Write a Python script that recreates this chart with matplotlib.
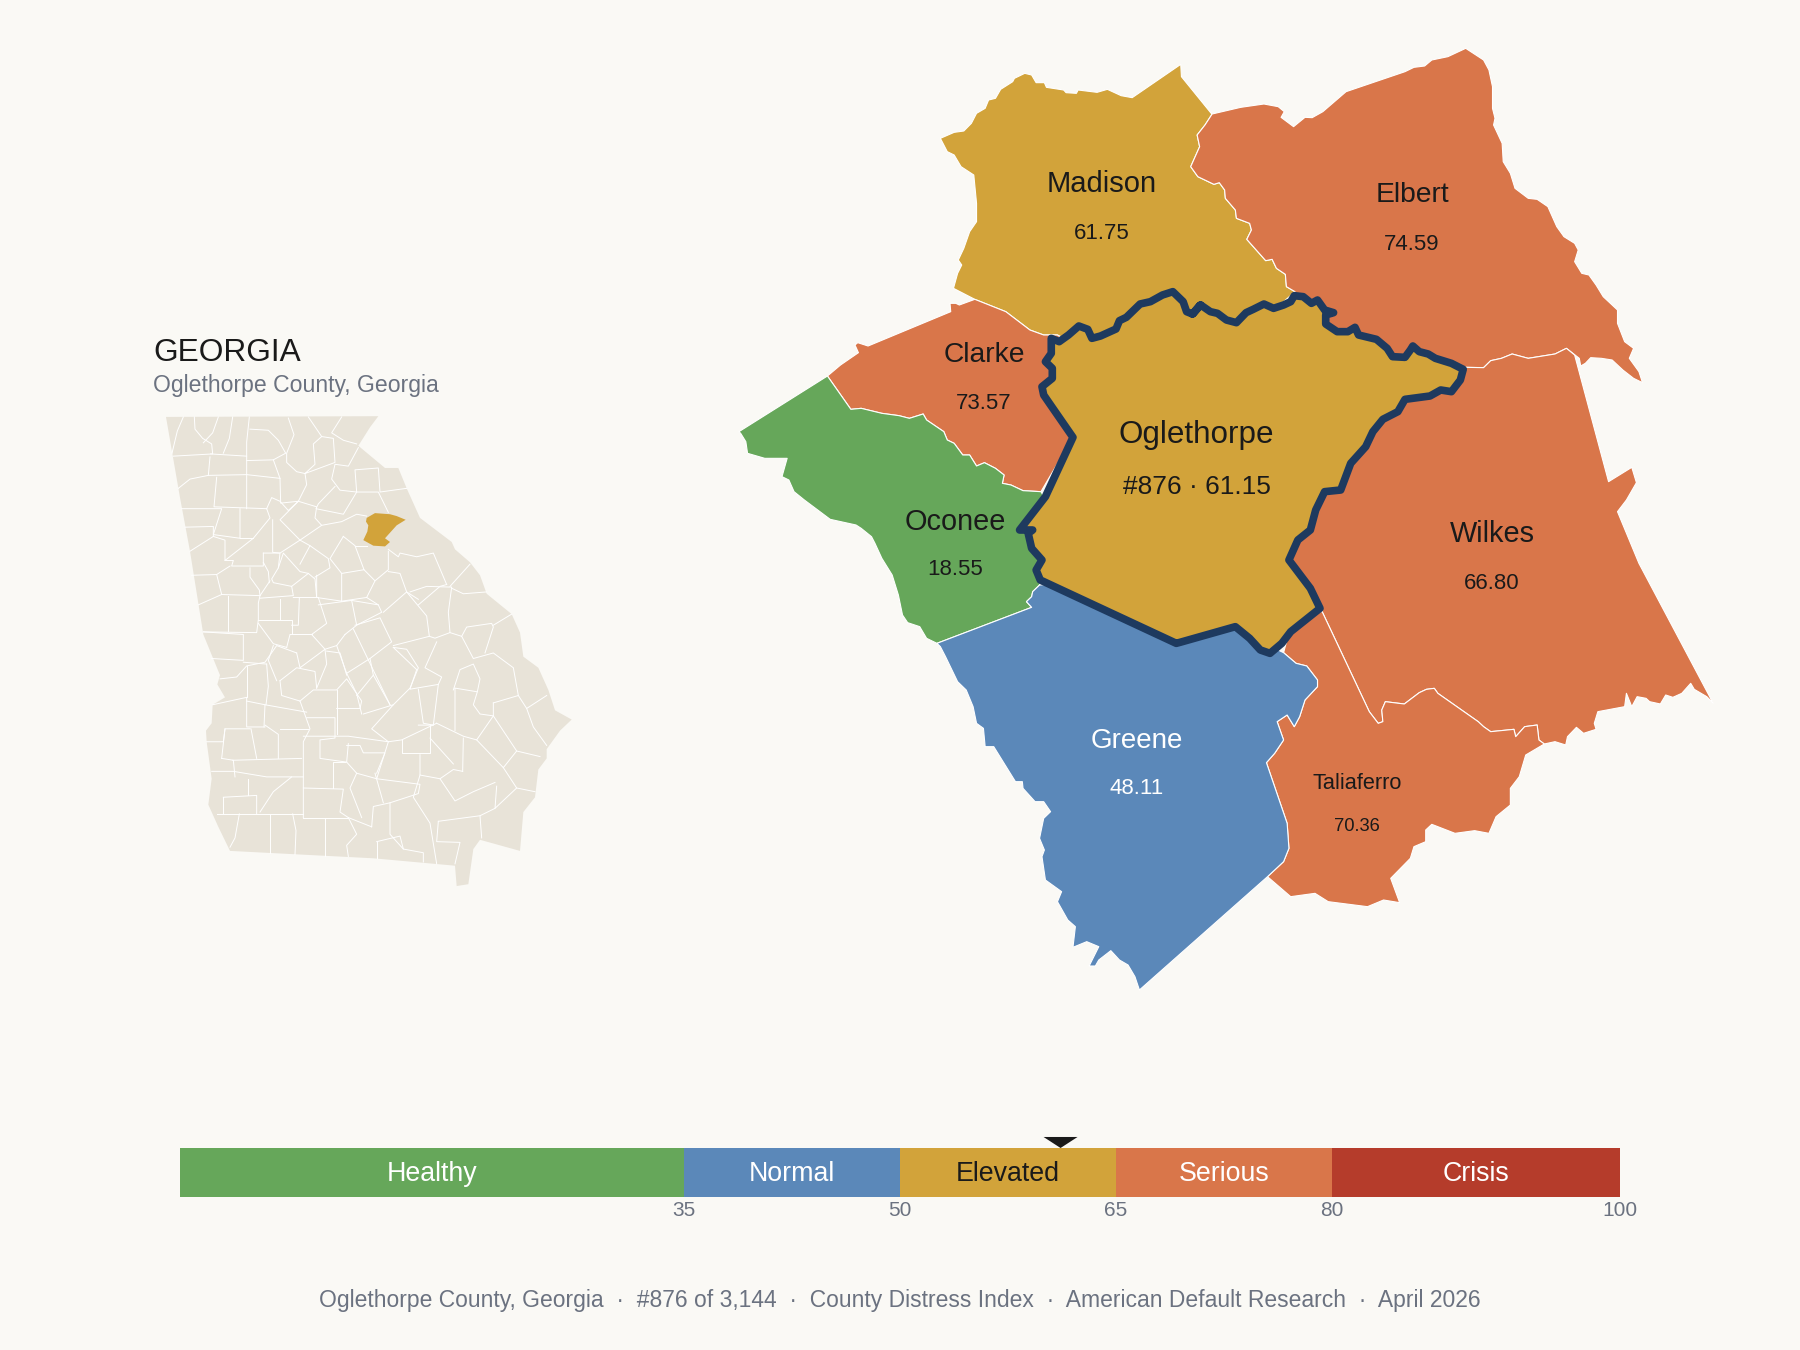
import matplotlib
matplotlib.use('Agg')
import matplotlib.pyplot as plt
import numpy as np

plt.rcParams['font.family'] = ['Liberation Sans', 'DejaVu Sans']

BG = '#FAF9F5'
INK = '#1A1A1A'
GREY = '#6B7280'
NAVY = '#1E3A5F'
LAND = '#E8E3D8'

# severity bands
band_names = ['Healthy', 'Normal', 'Elevated', 'Serious', 'Crisis']
band_edges = [0, 35, 50, 65, 80, 100]
band_colors = ['#66A75A', '#5B88B9', '#D2A33A', '#D9764A', '#B53C2B']
band_text = ['white', 'white', INK, 'white', 'white']
tick_values = [35, 50, 65, 80, 100]
county_score = 61.15

# county labels: name, score text, label colour, name size, score size
county_names = ['Madison', 'Elbert', 'Clarke', 'Oglethorpe', 'Oconee', 'Wilkes', 'Greene', 'Taliaferro']
county_scores = ['61.75', '74.59', '73.57', '#876 · 61.15', '18.55', '66.80', '48.11', '70.36']
name_xy = [(1102, 184.5), (1412, 195.5), (984, 355.5), (1196, 434.5), (955, 521.5), (1492, 534.5), (1137, 740.5), (1357, 783.5)]
score_xy = [(1102, 233.5), (1412, 244.5), (984, 403.5), (1197, 486.5), (955, 569.5), (1492, 583.5), (1137, 788.5), (1357, 826.5)]
name_size = [21, 20.3, 20.3, 22.6, 20.8, 20.8, 20, 15.7]
score_size = [16, 16, 16, 19, 16, 16, 16, 13.2]

CROP_A = (720, 30, 2.904, 3)
CROP_B = (1180, 30, 2.8, 3)
CROP_C = (720, 480, 2.904, 3)
CROP_D = (1180, 480, 2.8, 3)
CROP_E = (140, 320, 3, 2.703)


def px(crop, pts):
    x0, y0, sx, sy = crop
    a = np.array(pts, dtype=float)
    return np.column_stack([x0 + a[:, 0] / sx, y0 + a[:, 1] / sy])


# shared borders
madison_elbert = [(90, 252), (70, 285), (48, 315), (55, 350), (30, 410), (50, 440), (95, 463), (110, 458), (125, 480), (127, 505), (155, 540), (158, 565), (195, 580), (200, 600), (187, 628), (240, 692), (258, 688), (270, 715), (295, 733), (298, 770), (322, 785)]
madison_clarke = [(740, 808), (830, 845), (900, 900), (940, 915), (980, 915)]
clarke_oconee = [(312, 1038), (380, 1138), (410, 1135), (470, 1150), (520, 1157), (550, 1165), (590, 1152), (600, 1170), (650, 1205), (660, 1230), (680, 1240), (705, 1275), (725, 1275), (745, 1308), (768, 1298), (800, 1315), (825, 1335), (820, 1360), (845, 1365), (880, 1382), (932, 1385)]
oconee_greene = [(630, 490), (905, 382), (890, 365), (905, 350), (908, 335), (928, 315)]
greene_taliaferro = [(290, 518), (325, 550), (355, 558), (385, 600), (385, 620), (350, 660), (335, 710), (320, 740), (300, 705), (272, 725), (290, 780), (265, 820), (242, 848), (300, 1030), (305, 1105), (290, 1145), (245, 1190)]
wilkes_taliaferro = [(398, 395), (530, 695), (555, 730), (568, 725), (565, 690), (575, 665), (628, 672), (670, 638), (690, 628), (712, 625), (722, 640), (835, 725), (850, 740), (870, 755), (935, 748), (940, 770), (965, 740), (1000, 735), (1005, 780), (1020, 792)]
wilkes_elbert = [(800, 1012), (850, 1013), (870, 992), (900, 985), (930, 972), (975, 985), (1050, 972), (1082, 955)]

# outer edges
madison_rim_a = [(678, 775), (690, 730), (702, 705), (692, 690), (708, 655), (725, 605), (745, 575), (745, 520), (737, 435), (700, 410), (680, 375), (660, 365), (640, 325), (680, 307), (708, 303), (730, 280), (745, 250), (770, 235), (780, 210), (800, 205), (815, 178), (850, 155), (855, 145), (885, 130), (905, 135), (918, 158), (942, 158), (948, 172), (998, 180), (1005, 188), (1035, 190), (1040, 180), (1095, 187), (1125, 178), (1165, 197), (1197, 203), (1338, 103), (1340, 140), (1428, 252)]
elbert_rim_b = [(90, 252), (170, 232), (235, 222), (275, 230), (292, 245), (283, 262), (318, 290), (350, 262), (370, 263), (400, 245), (465, 185), (630, 125), (655, 112), (685, 108), (705, 90), (750, 80), (800, 55), (850, 90), (865, 120), (875, 170), (875, 235), (882, 265), (878, 285), (902, 340), (905, 395), (925, 430), (938, 475), (975, 505), (1000, 508), (1030, 530), (1055, 590), (1075, 620), (1105, 640), (1115, 660), (1105, 695), (1125, 730), (1145, 735), (1165, 765), (1185, 800), (1225, 840), (1225, 880), (1245, 935), (1270, 955), (1258, 985), (1285, 1025), (1295, 1058), (1270, 1045), (1240, 1020), (1210, 990), (1180, 985), (1150, 983), (1135, 1000), (1122, 1008), (1118, 985), (1082, 955)]
clarke_rim_a = [(312, 1038), (350, 1005), (402, 968), (392, 945), (400, 938), (430, 948), (670, 845), (668, 820), (685, 820), (695, 825), (740, 808)]
oconee_rim_a = [(55, 1205), (312, 1038)]
oconee_rim_a2 = [(200, 1350), (180, 1340), (195, 1285), (130, 1285), (80, 1270), (75, 1235), (60, 1210)]
oconee_rim_c = [(630, 490), (600, 475), (580, 440), (545, 428), (530, 405), (518, 345), (500, 285), (470, 235), (450, 190), (440, 170), (410, 145), (395, 135), (320, 118), (245, 60), (215, 35), (200, 0)]
greene_rim_c = [(1218, 1530), (1205, 1490), (1185, 1455), (1160, 1440), (1135, 1412), (1100, 1440), (1090, 1458), (1072, 1458), (1100, 1400), (1065, 1385), (1025, 1402), (1032, 1340), (1010, 1320), (980, 1265), (992, 1235), (945, 1200), (935, 1130), (942, 1110), (928, 1075), (940, 1015), (960, 995), (940, 965), (915, 965), (880, 925), (878, 905), (858, 905), (795, 800), (770, 800), (765, 745), (745, 730), (735, 680), (715, 630), (690, 605), (655, 530), (640, 500), (630, 490)]
wilkes_rim_b = [(1082, 955), (1105, 975), (1200, 1355), (1265, 1312), (1278, 1358), (1250, 1410)]
wilkes_rim_d = [(1225, 95), (1285, 250), (1493, 670), (1475, 650), (1440, 628), (1430, 610), (1405, 640), (1380, 652), (1360, 645), (1345, 672), (1315, 665), (1305, 655), (1280, 650), (1265, 680), (1250, 640), (1245, 680), (1195, 690), (1170, 695), (1160, 730), (1165, 748), (1130, 760), (1110, 742), (1085, 770), (1080, 795), (1050, 785), (1020, 792)]
taliaferro_rim_d = [(1020, 792), (968, 825), (950, 890), (925, 925), (925, 975), (885, 1010), (865, 1060), (825, 1052), (770, 1060), (705, 1033), (688, 1050), (688, 1085), (655, 1100), (645, 1135), (590, 1195), (615, 1268), (570, 1260), (525, 1280), (415, 1265), (378, 1240), (310, 1250), (245, 1190)]

# Oglethorpe, clockwise from its north-west corner
ogle_a1 = [(962, 925), (985, 935), (1012, 915), (1042, 888), (1068, 898), (1080, 925), (1105, 918), (1150, 897), (1160, 872), (1180, 862), (1220, 822), (1250, 815), (1285, 795), (1315, 785), (1345, 815), (1355, 845), (1372, 852), (1395, 825)]
ogle_b = [(35, 852), (58, 825), (85, 845), (105, 850), (130, 870), (158, 878), (185, 848), (205, 838), (235, 822), (262, 835), (290, 825), (310, 815), (320, 797), (345, 800), (368, 820), (385, 810), (405, 840), (430, 848), (408, 855), (408, 882), (440, 905), (470, 905), (490, 892), (500, 915), (550, 928), (580, 955), (595, 980), (630, 982), (645, 960), (652, 948), (670, 965), (695, 972), (715, 985), (760, 1000), (793, 1018), (785, 1050), (760, 1085), (730, 1080), (700, 1098), (630, 1108), (610, 1145), (568, 1168), (540, 1205), (520, 1250), (478, 1300)]
ogle_d = [(450, 30), (405, 35), (380, 90), (365, 150), (330, 180), (305, 240), (365, 325), (392, 385), (310, 455), (285, 490), (252, 520), (225, 510), (195, 475), (155, 440), (0, 487)]
ogle_c = [(1325, 490), (930, 300), (918, 270), (935, 240), (905, 205), (895, 160), (908, 150), (870, 150), (945, 50)]
ogle_a2 = [(1025, 1222), (960, 1125), (940, 1095), (935, 1070), (965, 1045), (965, 1015), (945, 995), (962, 970), (962, 925)]

# Georgia inset, traced in crop E
ga_outline = [(78, 262), (715, 260), (690, 290), (655, 340), (715, 385), (735, 400), (775, 400), (800, 455), (840, 535), (935, 600), (945, 620), (990, 655), (1020, 690), (1040, 740), (1115, 795), (1140, 845), (1150, 910), (1195, 940), (1225, 1000), (1245, 1055), (1295, 1080), (1260, 1110), (1220, 1160), (1220, 1185), (1195, 1215), (1185, 1290), (1150, 1330), (1140, 1435), (1080, 1420), (1020, 1405), (1000, 1430), (985, 1525), (950, 1530), (945, 1475), (700, 1455), (270, 1435), (235, 1370), (205, 1310), (215, 1240), (200, 1140), (198, 1110), (215, 1090), (218, 1040), (255, 1020), (232, 985), (240, 960), (190, 850), (150, 625), (120, 480)]
ga_oglethorpe = [(680, 535), (705, 522), (750, 525), (770, 530), (797, 540), (770, 555), (750, 575), (735, 590), (750, 600), (735, 612), (700, 610), (670, 595), (682, 572), (685, 555), (678, 545)]
ga_lines = [
    [(130, 262), (112, 300), (96, 360)],
    [(163, 262), (165, 295), (188, 320), (215, 335), (218, 362), (100, 368)],
    [(235, 262), (218, 305), (190, 332)],
    [(278, 262), (268, 320), (250, 360)],
    [(328, 262), (320, 330), (320, 510)],
    [(330, 295), (385, 298), (415, 325), (437, 360), (400, 378), (320, 380)],
    [(210, 370), (205, 420), (150, 430), (115, 455)],
    [(212, 362), (320, 368)],
    [(205, 420), (320, 418), (420, 428)],
    [(230, 425), (222, 505), (380, 510)],
    [(400, 378), (420, 428), (422, 495), (475, 490), (500, 445), (495, 415)],
    [(445, 265), (462, 310), (440, 360), (440, 385), (470, 410), (495, 415), (525, 390), (520, 335), (545, 315), (580, 320), (585, 385), (555, 395), (495, 415)],
    [(505, 262), (545, 315)],
    [(605, 262), (575, 305), (610, 325), (650, 335)],
    [(655, 345), (625, 395), (585, 390), (575, 430), (600, 460), (650, 465), (645, 405), (715, 400), (720, 465), (800, 455)],
    [(585, 450), (535, 497), (528, 510), (555, 515), (610, 525), (650, 465)],
    [(650, 465), (715, 465), (745, 520)],
    [(475, 490), (530, 505), (525, 535), (545, 555), (605, 545), (650, 525), (680, 530)],
    [(475, 490), (420, 540), (480, 595), (545, 555)],
    [(380, 510), (395, 480), (420, 490), (445, 515), (475, 490)],
    [(125, 510), (245, 510), (220, 580), (300, 590), (300, 510)],
    [(135, 560), (220, 558), (220, 585), (150, 625)],
    [(220, 585), (255, 595), (255, 650), (340, 590), (390, 535), (380, 510)],
    [(300, 590), (340, 590)],
    [(398, 540), (398, 628), (420, 630), (480, 595)],
    [(370, 630), (420, 630), (415, 670), (395, 700), (400, 710), (455, 720), (505, 685)],
    [(255, 650), (280, 650), (275, 665), (370, 665), (370, 630)],
    [(155, 690), (230, 688), (245, 742), (360, 745), (390, 705)],
    [(230, 688), (270, 665)],
    [(330, 670), (330, 695), (358, 730), (360, 745)],
    [(370, 655), (385, 680), (388, 710)],
    [(415, 670), (430, 630), (480, 680), (505, 685), (525, 700), (530, 750)],
    [(480, 595), (510, 610), (565, 645), (570, 670), (525, 695)],
    [(510, 610), (480, 660)],
    [(610, 585), (570, 645), (605, 685), (672, 675), (645, 610), (610, 585)],
    [(530, 690), (530, 750), (605, 760), (605, 685)],
    [(672, 675), (705, 705), (680, 750), (605, 760)],
    [(645, 610), (680, 610)],
    [(745, 625), (745, 675), (705, 705)],
    [(745, 620), (775, 640), (780, 630), (830, 640), (880, 630), (920, 715)],
    [(745, 680), (780, 685), (800, 735), (835, 755)],
    [(175, 770), (245, 742)],
    [(265, 745), (265, 840)],
    [(190, 843), (350, 845), (355, 810), (355, 765), (360, 745)],
    [(190, 843), (310, 850), (310, 920), (215, 915)],
    [(355, 810), (455, 810), (455, 850), (515, 850)],
    [(420, 755), (420, 810)],
    [(455, 720), (460, 745), (360, 752)],
    [(478, 752), (475, 825), (455, 825)],
    [(460, 750), (535, 750), (560, 820), (515, 850), (555, 890), (590, 880), (615, 850)],
    [(535, 770), (635, 758), (650, 825), (615, 850)],
    [(635, 758), (715, 770), (725, 790), (650, 825)],
    [(645, 825), (720, 805), (755, 870), (690, 915), (620, 955), (590, 880)],
    [(640, 835), (750, 1040)],
    [(730, 790), (800, 735), (860, 800), (868, 855), (760, 880)],
    [(680, 750), (715, 770)],
    [(810, 735), (860, 720), (935, 722), (925, 790), (930, 845), (885, 860), (868, 855)],
    [(835, 770), (900, 720), (920, 715)],
    [(935, 725), (970, 740), (1040, 735)],
    [(990, 660), (930, 720)],
    [(930, 845), (965, 855), (1000, 915), (1060, 900), (1120, 940), (1135, 1015), (1060, 1035)],
    [(965, 855), (980, 830), (1055, 820), (1060, 830), (1035, 900)],
    [(1060, 825), (1115, 795)],
    [(890, 870), (855, 940), (905, 965), (895, 985), (810, 998), (830, 945), (760, 885)],
    [(760, 885), (800, 890), (835, 940), (810, 995), (760, 1040), (670, 1065)],
    [(620, 955), (650, 1010), (665, 1065)],
    [(700, 960), (650, 1015)],
    [(690, 915), (700, 960), (750, 1040)],
    [(940, 1000), (960, 945), (1000, 930), (1020, 970), (1012, 1005), (945, 995), (945, 1110)],
    [(895, 985), (880, 1095), (835, 1095)],
    [(835, 998), (850, 1090), (880, 1095)],
    [(890, 1090), (970, 1125), (1010, 1135), (1060, 1070), (1060, 1035)],
    [(1012, 1005), (1000, 1040), (1020, 1065), (1060, 1070)],
    [(1135, 1015), (1160, 1050), (1220, 1015)],
    [(1160, 1050), (1180, 1100), (1220, 1150)],
    [(1060, 1070), (1130, 1165), (1090, 1210), (1010, 1135)],
    [(1130, 1165), (1200, 1180)],
    [(970, 1130), (968, 1220)],
    [(1090, 1210), (1130, 1265), (1065, 1320), (1070, 1260)],
    [(1065, 1320), (1020, 1340), (1025, 1400)],
    [(1130, 1265), (1185, 1275)],
    [(1065, 1250), (1000, 1275), (945, 1300), (900, 1240), (940, 1215), (968, 1220)],
    [(890, 1090), (785, 1135), (745, 1140), (695, 1105), (760, 1040)],
    [(785, 1135), (785, 1170), (870, 1170), (870, 1095)],
    [(870, 1130), (940, 1200)],
    [(840, 1175), (840, 1230), (900, 1240)],
    [(840, 1230), (820, 1290), (870, 1360), (890, 1470)],
    [(895, 1355), (1020, 1340)],
    [(895, 1355), (890, 1410), (960, 1412), (945, 1470)],
    [(750, 1305), (750, 1390), (790, 1430), (850, 1440), (850, 1465)],
    [(710, 1240), (745, 1140)],
    [(710, 1240), (840, 1255), (835, 1280), (750, 1305), (700, 1315), (695, 1370)],
    [(490, 1125), (625, 1125), (745, 1140)],
    [(590, 1000), (590, 1120)],
    [(480, 1030), (520, 1000), (590, 1000), (620, 970), (665, 1030), (660, 1050), (590, 1050)],
    [(500, 1075), (585, 1075), (585, 1130), (540, 1135), (540, 1185), (620, 1195), (650, 1225), (710, 1240)],
    [(480, 1030), (510, 1105), (490, 1140), (490, 1345)],
    [(490, 1265), (610, 1268), (600, 1330), (625, 1345), (695, 1370)],
    [(615, 1195), (578, 1195), (578, 1265)],
    [(650, 1225), (630, 1265), (665, 1345)],
    [(705, 1225), (730, 1305)],
    [(555, 1345), (555, 1450)],
    [(490, 1345), (625, 1345)],
    [(390, 1335), (390, 1440)],
    [(230, 1335), (490, 1335)],
    [(458, 1335), (468, 1380), (465, 1445)],
    [(298, 1335), (285, 1400), (270, 1425)],
    [(250, 1290), (350, 1285), (350, 1335)],
    [(250, 1290), (250, 1335)],
    [(215, 1220), (280, 1220), (380, 1235), (490, 1235)],
    [(278, 1190), (485, 1185)],
    [(245, 1185), (280, 1190), (285, 1235)],
    [(325, 1240), (325, 1285)],
    [(455, 1235), (400, 1275), (360, 1330)],
    [(200, 1140), (250, 1140), (255, 1105), (330, 1105)],
    [(255, 1105), (245, 1185)],
    [(333, 1105), (350, 1185)],
    [(375, 1095), (415, 1120), (415, 1185)],
    [(420, 1105), (505, 1105)],
    [(375, 1040), (500, 1060)],
    [(320, 1030), (375, 1040), (372, 1100)],
    [(218, 1040), (320, 1020), (320, 1100), (375, 1100)],
    [(320, 935), (320, 1020)],
    [(380, 930), (385, 990), (378, 1040)],
    [(240, 970), (290, 965), (320, 935), (375, 925), (410, 880), (470, 900)],
    [(310, 925), (380, 930)],
    [(420, 975), (470, 940), (525, 950), (530, 995)],
    [(420, 975), (425, 1015), (480, 1030)],
    [(470, 900), (480, 940), (555, 890), (560, 930), (530, 995)],
    [(560, 895), (600, 900), (620, 960)],
    [(515, 850), (450, 850), (440, 885)],
    [(355, 820), (400, 875), (440, 885)],
    [(400, 880), (385, 920), (410, 975)],
    [(620, 1150), (660, 1150), (670, 1170), (735, 1170), (710, 1225)],
    [(620, 1195), (625, 1145)],
    [(710, 1410), (710, 1455)],
    [(710, 1410), (780, 1395), (790, 1430)],
    [(625, 1345), (650, 1390), (620, 1420), (625, 1450)],
]

# neighbours run on under Oglethorpe, which is drawn over them
madison = np.vstack([
    px(CROP_A, madison_rim_a),
    px(CROP_B, madison_elbert),
    px(CROP_B, [(200, 900)]),
    px(CROP_A, [(1150, 1000)]),
    px(CROP_A, madison_clarke[::-1]),
])
elbert = np.vstack([
    px(CROP_B, elbert_rim_b),
    px(CROP_B, wilkes_elbert[::-1]),
    px(CROP_B, [(740, 1040), (500, 1000), (300, 900)]),
    px(CROP_B, madison_elbert[::-1]),
])
clarke = np.vstack([
    px(CROP_A, clarke_rim_a),
    px(CROP_A, madison_clarke),
    px(CROP_A, [(1100, 1000), (1025, 1222)]),
    px(CROP_A, clarke_oconee[::-1]),
])
oconee = np.vstack([
    px(CROP_A, oconee_rim_a),
    px(CROP_A, clarke_oconee),
    px(CROP_C, [(1000, 150)]),
    px(CROP_C, oconee_greene[::-1]),
    px(CROP_C, oconee_rim_c),
    px(CROP_A, oconee_rim_a2),
])
greene = np.vstack([
    px(CROP_C, oconee_greene),
    px(CROP_C, [(1200, 300)]),
    px(CROP_D, greene_taliaferro),
    px(CROP_C, greene_rim_c),
])
wilkes = np.vstack([
    px(CROP_B, wilkes_elbert),
    px(CROP_B, wilkes_rim_b),
    px(CROP_D, wilkes_rim_d),
    px(CROP_D, wilkes_taliaferro[::-1]),
    px(CROP_D, [(250, 250), (280, 100), (420, -20)]),
    px(CROP_B, [(580, 1120), (740, 1040)]),
])
taliaferro = np.vstack([
    px(CROP_D, wilkes_taliaferro),
    px(CROP_D, taliaferro_rim_d),
    px(CROP_D, greene_taliaferro[::-1]),
    px(CROP_D, [(320, 400)]),
])
oglethorpe = np.vstack([
    px(CROP_A, ogle_a1),
    px(CROP_B, ogle_b),
    px(CROP_D, ogle_d),
    px(CROP_C, ogle_c),
    px(CROP_A, ogle_a2),
])

fig = plt.figure(figsize=(18, 13.5), dpi=100, facecolor=BG)
ax = fig.add_axes([0, 0, 1, 1])
ax.set_xlim(0, 1800)
ax.set_ylim(1350, 0)
ax.axis('off')

# inset
ax.fill(*px(CROP_E, ga_outline).T, color=LAND, lw=0)
for line in ga_lines:
    ax.plot(*px(CROP_E, line).T, color='white', lw=0.7, solid_joinstyle='round')
ax.fill(*px(CROP_E, ga_oglethorpe).T, color=band_colors[2], lw=0)
ax.text(153, 361, 'GEORGIA', fontsize=22.8, color=INK, ha='left', va='baseline')
ax.text(153, 392, 'Oglethorpe County, Georgia', fontsize=16.6, color=GREY, ha='left', va='baseline')

# counties
neighbours = [(madison, 2), (elbert, 3), (clarke, 3), (oconee, 0), (wilkes, 3), (taliaferro, 3), (greene, 1)]
for shape, band in neighbours:
    ax.fill(shape[:, 0], shape[:, 1], facecolor=band_colors[band], edgecolor='white', lw=0.8, joinstyle='round')
ax.fill(oglethorpe[:, 0], oglethorpe[:, 1], facecolor=band_colors[2], edgecolor=NAVY, lw=5.5, joinstyle='round')

for i, name in enumerate(county_names):
    c = 'white' if name == 'Greene' else INK
    ax.text(name_xy[i][0], name_xy[i][1], name, fontsize=name_size[i], color=c, ha='center', va='center')
    ax.text(score_xy[i][0], score_xy[i][1], county_scores[i], fontsize=score_size[i], color=c, ha='center', va='center')

ax.text(900, 1301, 'Oglethorpe County, Georgia  ·  #876 of 3,144  ·  County Distress Index  ·  American Default Research  ·  April 2026',
        fontsize=16.5, color=GREY, ha='center', va='center')

# severity bar
bar = fig.add_axes([180 / 1800, 153 / 1350, 1440 / 1800, 49 / 1350])
bar.set_xlim(0, 100)
bar.set_ylim(0, 1)
for i, name in enumerate(band_names):
    bar.barh(0.5, band_edges[i + 1] - band_edges[i], left=band_edges[i], height=1, color=band_colors[i], lw=0)
    bar.text((band_edges[i] + band_edges[i + 1]) / 2, 0.47, name, fontsize=19.3, color=band_text[i], ha='center', va='center')
bar.set_xticks(tick_values)
bar.set_xticklabels([str(t) for t in tick_values], fontsize=15, color=GREY)
bar.tick_params(axis='x', length=0, pad=3)
bar.set_yticks([])
for s in bar.spines.values():
    s.set_visible(False)
bar.fill([county_score - 1.18, county_score + 1.18, county_score], [1.225, 1.225, 1.0], color=INK, lw=0, clip_on=False)

fig.savefig('out.png', dpi=100, facecolor=BG)
